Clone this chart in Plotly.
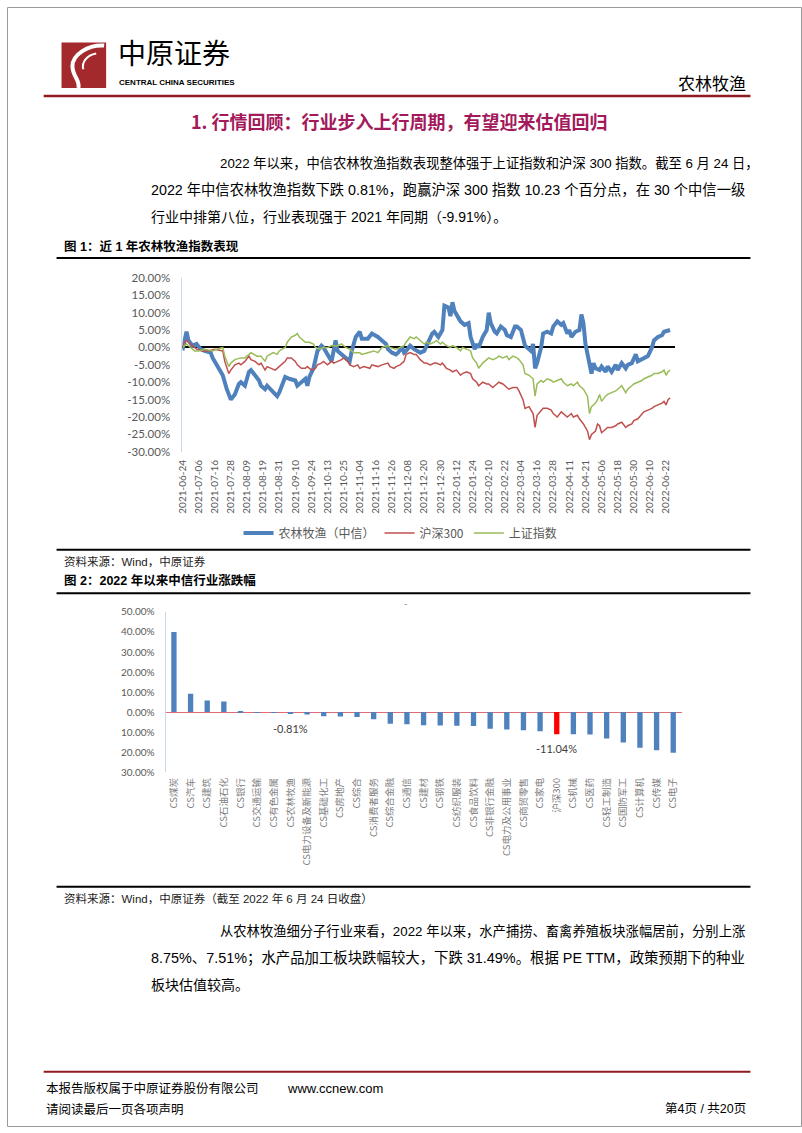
import plotly.graph_objects as go

# ---------------- data: chart 1 (trading-day index vs. cumulative change, %) ----------------
date_labels = ["2021-06-24", "2021-07-06", "2021-07-16", "2021-07-28", "2021-08-09", "2021-08-19",
               "2021-08-31", "2021-09-10", "2021-09-24", "2021-10-13", "2021-10-25", "2021-11-04",
               "2021-11-16", "2021-11-26", "2021-12-08", "2021-12-20", "2021-12-30", "2022-01-12",
               "2022-01-24", "2022-02-10", "2022-02-22", "2022-03-04", "2022-03-16", "2022-03-28",
               "2022-04-11", "2022-04-21", "2022-05-06", "2022-05-18", "2022-05-30", "2022-06-10",
               "2022-06-22"]
label_step = 8  # one date label every 8 trading days
last_day = 242

nlmy_day = [0, 2, 3, 5, 7, 9, 11, 14, 15, 18, 20, 22, 24, 26, 28, 29, 31, 33, 34, 36, 38, 39, 41, 42, 45,
            47, 48, 50, 51, 53, 56, 57, 59, 61, 62, 63, 65, 66, 67, 69, 70, 72, 74, 75, 76, 77, 79, 80, 83,
            84, 86, 88, 89, 91, 92, 94, 96, 97, 99, 101, 102, 104, 106, 107, 109,
            110, 111, 113, 115, 118, 120, 122, 124, 125, 127, 129, 130, 132, 133, 134, 135, 137, 138, 140,
            142, 143, 145, 146, 147, 149, 151, 152, 153, 155, 156, 158, 160, 161, 163, 165, 166, 168, 169,
            170, 172, 173, 174, 175, 176, 178, 179, 181, 183, 184, 186, 188, 189, 191, 192, 193, 195, 197,
            198, 199, 200, 202, 203, 204, 205, 207, 208, 210, 211, 213, 215, 216, 218, 220, 221, 223, 225,
            226, 228, 229, 231, 233, 234, 236, 238, 239, 241, 242]
nlmy_pct = [-0.8, 4.5, 2, 0.5, 1, -0.5, -1, -1.5, -3, -6, -8, -12, -15, -13.5, -10.5, -10, -11, -7, -6.5,
            -8, -9.5, -11, -12, -11, -13, -14, -13, -10, -8.5, -9, -9.5, -11, -10, -9, -11, -8.5, -6, -4,
            -1, 0.5, 0, -2, -4, -1, 2, -1, -2, -2.5, -4, -1, 3, 4.5, 2.5, 2.5, 2.5, 4, 3.5, 3, 2, 1, -0.5,
            -1.5, -2, -1.5, 0,
            -1.5, -1, 0.5, -0.5, -1.5, -1, 1.5, 4, 4.5, 3, 5, 12, 11.5, 9, 13, 10.5, 8.5, 7.5, 6.5, 7, 3,
            -0.5, 1, 0, 3, 5, 10, 7, 4.5, 4, 6, 5, 3.5, 3, 6, 6, 5, 3, 0.5, -0.5, -1, 1, -6, -4.5, 0, 4,
            4.5, 4, 6, 7.5, 6.5, 7, 4, 5, 3, 4.5, 5, 9.5, 7, 1, -4, -7.5, -4.5, -6, -6.5, -5.5, -7, -5.5,
            -7, -5, -6.5, -4.5, -6, -5, -4.5, -2, -4, -3.5, -3, -2.5, 0, 2, 3, 3.5, 4.5, 5, 5]

hs300_day = [0, 1, 2, 4, 6, 7, 10, 13, 16, 20, 21, 23, 24, 26, 28, 29, 31, 33, 34, 36, 38, 39, 41, 42, 44,
             46, 47, 49, 51, 52, 54, 56, 57, 59, 61, 62, 64, 66, 67, 69, 70, 72, 74, 75, 77, 79, 80, 82, 83,
             85, 87, 88, 90, 93, 94, 97, 99, 102, 103, 105, 106, 108,
             110, 111, 113, 115, 116, 118, 120, 121, 123, 125, 126, 128, 129, 131, 133, 134, 136, 138, 139,
             141, 143, 144, 146, 147, 149, 151, 152, 154, 156, 157, 159, 161, 162, 164, 166, 167, 169, 170,
             172, 174, 175, 176, 178, 179, 181, 183, 184, 186, 188, 189, 191, 193, 194, 196, 197, 199, 201,
             202, 203, 205, 206, 207, 208, 210, 211, 213, 215, 216, 218, 220, 221, 223, 224, 226, 228, 229,
             231, 233, 234, 236, 238, 239, 240, 241, 242]
hs300_pct = [0, 1.5, 2, 1, 0, -0.5, -1, -1, -0.5, -1, -4, -7.5, -6.5, -5, -4.5, -5, -4, -2.5, -3.5, -4, -5,
             -4.5, -6.5, -5.5, -6, -6.5, -6, -5, -4, -3, -3, -4, -5, -6, -6, -5.5, -6.5, -6, -5, -4.5, -4,
             -5, -4, -4.5, -4, -3.5, -3, -4, -5, -5.5, -5, -6, -5.5, -6, -5, -5.5, -5, -4.5, -5.5, -6,
             -5.5, -5,
             -4, -2, -1.5, -2, -2, -3.5, -4.5, -4.5, -5, -4.5, -4.5, -5, -4.5, -6, -6.5, -7, -6.5, -8,
             -7.5, -7, -7.5, -9, -10, -11, -10, -10.5, -10.5, -11.5, -10.5, -10, -10.5, -11.5, -12, -11.5,
             -11.5, -12.5, -15, -17.5, -17, -19, -23, -19.5, -18, -17.5, -17.5, -18, -19, -20, -18.5, -19,
             -20, -19, -20, -19.5, -20.5, -22, -24, -26.5, -25, -24, -22, -22.5, -24.5, -23.5, -23, -23,
             -22.5, -22, -21.5, -23, -22.5, -22, -21, -20.5, -19, -18.5, -18, -17.5, -17, -16.5, -16,
             -15.5, -16.5, -15, -14.5]

sz_day = [0, 2, 3, 6, 8, 11, 15, 17, 20, 21, 23, 24, 26, 29, 31, 33, 34, 37, 39, 41, 42, 45, 47, 48, 51,
          52, 54, 56, 57, 58, 60, 61, 63, 65, 66, 68, 70, 72, 74, 77, 79, 81, 83, 85, 88, 89, 92, 95, 97,
          99, 102, 103, 106, 108,
          110, 111, 113, 115, 116, 118, 120, 121, 123, 125, 126, 128, 129, 131, 133, 134, 136, 138, 139,
          141, 143, 144, 146, 147, 149, 151, 152, 154, 156, 157, 159, 161, 162, 164, 166, 167, 169, 170,
          172, 174, 175, 176, 178, 179, 181, 183, 184, 186, 188, 189, 191, 193, 194, 196, 197, 199, 201,
          202, 203, 205, 206, 207, 208, 210, 211, 213, 215, 216, 218, 220, 221, 223, 224, 226, 228, 229,
          231, 233, 234, 236, 238, 239, 240, 241, 242]
sz_pct = [0, 1, 0.5, -1, -1, -0.5, -1, -0.5, 0, -2.5, -5.5, -4.5, -3.5, -3, -3, -2, -1.5, -2.5, -2.5, -4,
          -2.5, -1.5, -2, -1, 0, 1.5, 3, 3.5, 4, 3, 2, 1.5, 1.5, 1, 0, -0.5, 0, 0, 0.5, 0.5, 1, 0, -0.5,
          -1.5, -1.5, -2, -1.5, -1, -1.5, 0, 0.5, 0, -0.5, 0,
          0.5, 1.5, 3, 2.5, 3, 2, 1, 1.5, 1, 1.5, 2, 1, 1.5, 0.5, 0, 0.5, 0, -1, 0, -0.5, -1, -3, -4.5,
          -6, -4.5, -3.5, -3, -3.5, -3, -2.5, -3, -2.5, -3.5, -2.5, -3, -3.5, -5, -7.5, -8, -9, -14,
          -10.5, -9.5, -10, -9, -9.5, -10, -9.5, -9, -10, -11, -10.5, -11, -10, -11, -12, -14, -19, -17,
          -16, -15, -13.5, -15.5, -14, -13.5, -13, -12.5, -12, -11, -13, -12, -11, -10.5, -10, -9.5, -9,
          -8.5, -8, -7.5, -7.5, -7, -6.5, -8, -7, -6.5]

y1_ticks = [20, 15, 10, 5, 0, -5, -10, -15, -20, -25, -30]

# ---------------- data: chart 2 (2022 YTD change by CITIC industry, %) ----------------
industries = ["CS煤炭", "CS汽车", "CS建筑", "CS石油石化", "CS银行", "CS交通运输", "CS有色金属",
              "CS农林牧渔", "CS电力设备及新能源", "CS基础化工", "CS房地产", "CS综合", "CS消费者服务",
              "CS综合金融", "CS通信", "CS建材", "CS钢铁", "CS纺织服装", "CS食品饮料", "CS非银行金融",
              "CS电力及公用事业", "CS商贸零售", "CS家电", "沪深300", "CS机械", "CS医药", "CS轻工制造",
              "CS国防军工", "CS计算机", "CS传媒", "CS电子"]
ytd_change = [40.0, 9.1, 5.8, 5.3, 0.1, -0.1, -0.3, -0.81, -1.2, -2.1, -2.2, -2.5, -3.6, -5.8, -6.1,
              -6.6, -6.7, -6.8, -6.9, -8.3, -8.7, -9.1, -9.6, -11.04, -11.1, -11.2, -13.2, -15.2, -17.8,
              -19.1, -20.3]
labelled = ["CS农林牧渔", "沪深300"]
highlight = "沪深300"
y2_ticks = [50, 40, 30, 20, 10, 0, -10, -20, -30]
y2_ticktext = ["50.00%", "40.00%", "30.00%", "20.00%", "10.00%", "0.00%", "10.00%", "20.00%", "30.00%"]

# ---------------- page geometry helpers ----------------
W, H = 802, 1133


def fx(x):
    return x / W


def fy(y):
    return 1 - y / H


CJK = "Noto Sans CJK SC"
BODY = "Liberation Sans, Noto Sans CJK SC"
NUM = "Lato"
BLUE = "#4f81bd"
RED = "#c0504d"
GREEN = "#9bbb59"
DARKRED = "#8e1b1f"

fig = go.Figure()

# chart 1 lines
fig.add_trace(go.Scatter(x=nlmy_day, y=nlmy_pct, mode="lines", name="农林牧渔（中信）",
                         line=dict(color=BLUE, width=4), xaxis="x", yaxis="y"))
fig.add_trace(go.Scatter(x=hs300_day, y=hs300_pct, mode="lines", name="沪深300",
                         line=dict(color=RED, width=1.5), xaxis="x", yaxis="y"))
fig.add_trace(go.Scatter(x=sz_day, y=sz_pct, mode="lines", name="上证指数",
                         line=dict(color=GREEN, width=1.5), xaxis="x", yaxis="y"))

# chart 2 bars
bar_colors = ["#ff0000" if n == highlight else BLUE for n in industries]
fig.add_trace(go.Bar(x=industries, y=ytd_change, marker=dict(color=bar_colors, line=dict(width=0)),
                     width=0.32, xaxis="x2", yaxis="y2", showlegend=False))

tick_days = list(range(0, label_step * len(date_labels), label_step))

annotations = []


def txt(s, x, y, size=14, color="#000000", family=BODY, xanchor="left", yanchor="middle"):
    annotations.append(dict(text=s, x=fx(x), y=fy(y), xref="paper", yref="paper", showarrow=False,
                            xanchor=xanchor, yanchor=yanchor,
                            font=dict(family=family, size=size, color=color)))


# header
txt("中原证券", 110, 68, size=28, family=CJK, yanchor="bottom")
txt("<b>CENTRAL CHINA SECURITIES</b>", 111, 76, size=8, family="Liberation Sans")
txt("农林牧渔", 748, 76, size=17, family=CJK, xanchor="right")

# section title
txt("<b>1. 行情回顾：行业步入上行周期，有望迎来估值回归</b>", 396, 115, size=18,
    color="#a3195b", family=CJK, xanchor="center")

# paragraph 1
txt("2022 年以来，中信农林牧渔指数表现整体强于上证指数和沪深 300 指数。截至 6 月 24 日，", 213, 158, size=13.3)
txt("2022 年中信农林牧渔指数下跌 0.81%，跑赢沪深 300 指数 10.23 个百分点，在 30 个中信一级", 143, 185, size=14.3)
txt("行业中排第八位，行业表现强于 2021 年同期（-9.91%）。", 143, 212, size=14)

# figure captions / sources
txt("<b>图 1：近 1 年农林牧渔指数表现</b>", 55, 242, size=12.5)
txt("资料来源：Wind，中原证券", 55, 561, size=11.5, color="#222222")
txt("<b>图 2：2022 年以来中信行业涨跌幅</b>", 55, 580, size=12.5)
txt("资料来源：Wind，中原证券（截至 2022 年 6 月 24 日收盘）", 55, 902, size=11.5, color="#222222")
txt("-", 402, 603, size=9, color="#7f7f7f", family=NUM, xanchor="center")

# paragraph 2
txt("从农林牧渔细分子行业来看，2022 年以来，水产捕捞、畜禽养殖板块涨幅居前，分别上涨", 213, 935, size=13.3)
txt("8.75%、7.51%；水产品加工板块跌幅较大，下跌 31.49%。根据 PE TTM，政策预期下的种业", 143, 962, size=14.4)
txt("板块估值较高。", 143, 989, size=14)

# footer
txt("本报告版权属于中原证券股份有限公司", 37, 1094, size=12.5)
txt("www.ccnew.com", 280, 1094, size=13, family="Liberation Sans")
txt("请阅读最后一页各项声明", 37, 1115, size=12.5)
txt("第4页 / 共20页", 748, 1115, size=12.5, xanchor="right")

# data labels on chart 2
for name, val in zip(industries, ytd_change):
    if name in labelled:
        annotations.append(dict(text=f"{val:.2f}%", x=name, y=val, xref="x2", yref="y2",
                                showarrow=False, xanchor="center", yanchor="top", yshift=-6,
                                font=dict(family=NUM, size=11, color="#404040")))

shapes = []


def hline(x0, x1, y, color="#000000", width=2):
    shapes.append(dict(type="line", xref="paper", yref="paper", x0=fx(x0), x1=fx(x1), y0=fy(y), y1=fy(y),
                       line=dict(color=color, width=width)))


hline(37, 750, 90, DARKRED, 2.5)
hline(50, 750, 254, "#000000", 2)
hline(50, 750, 549, "#000000", 2)
hline(50, 750, 593, "#000000", 2)
hline(50, 750, 890, "#000000", 2)
hline(37, 750, 1077, DARKRED, 2)

# page border
shapes.append(dict(type="rect", xref="paper", yref="paper", x0=fx(0.5), x1=fx(801.5), y0=fy(1132.5),
                   y1=fy(0.5), line=dict(color="#9a9a9a", width=1)))

# logo: red block with a white brush-stroke curve
shapes.append(dict(type="rect", xref="paper", yref="paper", x0=fx(55), x1=fx(100), y0=fy(82), y1=fy(36),
                   fillcolor="#a3292d", line=dict(width=0)))
p1 = (f"M {fx(98)},{fy(39)} C {fx(82)},{fy(38)} {fx(66)},{fy(48)} {fx(66)},{fy(60)} "
      f"C {fx(66)},{fy(70)} {fx(74)},{fy(74)} {fx(72)},{fy(82)}")
shapes.append(dict(type="path", xref="paper", yref="paper", path=p1, line=dict(color="white", width=4)))
p2 = (f"M {fx(90)},{fy(47)} C {fx(80)},{fy(49)} {fx(75)},{fy(56)} {fx(77)},{fy(63)}")
shapes.append(dict(type="path", xref="paper", yref="paper", path=p2, line=dict(color="white", width=2)))

fig.update_layout(
    width=W, height=H,
    margin=dict(l=0, r=0, t=0, b=0),
    paper_bgcolor="white", plot_bgcolor="white",
    showlegend=True,
    legend=dict(orientation="h", x=fx(397), xanchor="center", y=fy(532), yanchor="middle",
                font=dict(family=CJK, size=12, color="#595959"), bgcolor="rgba(0,0,0,0)",
                itemwidth=30, tracegroupgap=0),
    xaxis=dict(domain=[fx(177), fx(674)], range=[0, last_day + 2.5], tickmode="array",
               tickvals=tick_days, ticktext=date_labels, tickangle=-90,
               tickfont=dict(family=NUM, size=10, color="#595959"), showgrid=False, zeroline=False,
               showline=False, ticks="", ticklabelstandoff=5, anchor="y", fixedrange=True),
    yaxis=dict(domain=[fy(450), fy(274)], range=[-30, 20], tickmode="array", tickvals=y1_ticks,
               ticktext=[f"{v:.2f}%" for v in y1_ticks],
               tickfont=dict(family=NUM, size=11.5, color="#595959"), showgrid=False,
               showline=True, linecolor="#c9d8ec", linewidth=1,
               zeroline=True, zerolinecolor="#000000", zerolinewidth=1.5,
               ticks="", ticklabelstandoff=9, anchor="x", fixedrange=True),
    xaxis2=dict(domain=[fx(160), fx(680.5)], range=[-0.5, len(industries) - 0.5], type="category",
                tickangle=-90, tickfont=dict(family=CJK, size=9.5, color="#7f7f7f"), showgrid=False,
                zeroline=False, showline=False, ticks="", ticklabelstandoff=3, anchor="y2",
                fixedrange=True),
    yaxis2=dict(domain=[fy(774), fy(612)], range=[-30, 50], tickmode="array", tickvals=y2_ticks,
                ticktext=y2_ticktext, tickfont=dict(family=NUM, size=10, color="#595959"),
                showgrid=False, showline=True, linecolor="#c9d8ec", linewidth=1,
                zeroline=True, zerolinecolor="#e06b75", zerolinewidth=1,
                ticks="", ticklabelstandoff=8, anchor="x2", fixedrange=True),
    annotations=annotations,
    shapes=shapes,
)

fig.write_html("out.html")
